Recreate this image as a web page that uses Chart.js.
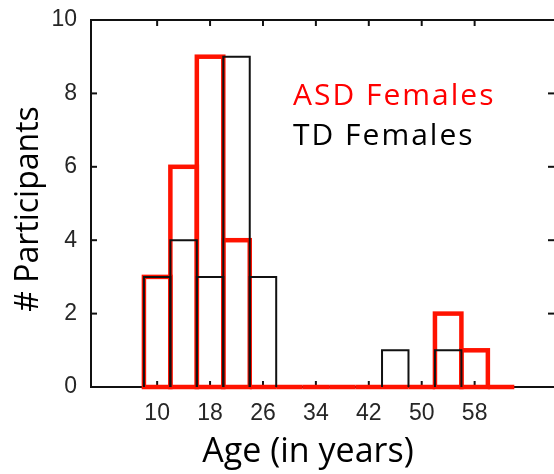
<!DOCTYPE html>
<html>
<head>
<meta charset="utf-8">
<title>Age histogram</title>
<script src="https://cdn.jsdelivr.net/npm/chart.js@4.4.0/dist/chart.umd.min.js"></script>
<style>
html, body { margin: 0; padding: 0; background: #fff; }
#wrap { width: 554px; height: 474px; }
</style>
</head>
<body>
<div id="wrap"><canvas id="hist"></canvas></div>
<script>
// 4-year age bins, given by their centres
var ages = [10, 14, 18, 22, 26, 30, 34, 38, 42, 46, 50, 54, 58, 62];
var asdFemales = [3, 6, 9, 4, 0, 0, 0, 0, 0, 0, 0, 2, 1, 0];
var tdFemales = [3, 4, 3, 9, 3, 0, 0, 0, 0, 1, 0, 1, 0, 0];
var ageTicks = [10, 18, 26, 34, 42, 50, 58];
var countTicks = [0, 2, 4, 6, 8, 10];

var RED = '#ff1200';
var INK = '#111111';
var LABEL = '"Open Sans", Lato, sans-serif';

function points(values)
{
	return ages.map(function (a, i) { return {x: a, y: values[i]}; });
}

function line(ctx, x1, y1, x2, y2)
{
	ctx.beginPath();
	ctx.moveTo(x1, y1);
	ctx.lineTo(x2, y2);
	ctx.stroke();
}

// axes with inward ticks under the bars, the bar outlines on top
var outlines = {
	id: 'outlines',
	beforeDatasetsDraw: function (chart)
	{
		var ctx = chart.ctx, a = chart.chartArea;
		var xs = chart.scales.x, ys = chart.scales.y;
		ctx.save();
		ctx.strokeStyle = INK;
		ctx.lineWidth = 2;
		ctx.beginPath();
		ctx.moveTo(chart.width, a.top);
		ctx.lineTo(a.left, a.top);
		ctx.lineTo(a.left, a.bottom);
		ctx.lineTo(chart.width, a.bottom);
		ctx.stroke();
		ageTicks.forEach(function (v)
		{
			var px = xs.getPixelForValue(v);
			line(ctx, px, a.bottom, px, a.bottom - 6);
			line(ctx, px, a.top, px, a.top + 6);
		});
		countTicks.forEach(function (v)
		{
			var py = ys.getPixelForValue(v);
			line(ctx, a.left, py, a.left + 6, py);
			line(ctx, chart.width, py, chart.width - 6, py);
		});
		ctx.restore();
	},
	afterDatasetsDraw: function (chart)
	{
		var ctx = chart.ctx;
		chart.data.datasets.forEach(function (ds, i)
		{
			var meta = chart.getDatasetMeta(i);
			ctx.save();
			ctx.strokeStyle = ds.borderColor;
			ctx.lineWidth = ds.outlineWidth;
			ctx.lineJoin = 'miter';
			meta.data.forEach(function (bar)
			{
				var p = bar.getProps(['x', 'y', 'base', 'width'], true);
				var l = p.x - p.width / 2, r = p.x + p.width / 2;
				if (ds.closed)
					ctx.strokeRect(l, p.y, r - l, p.base - p.y);
				else if (p.base - p.y > 0.5)
				{
					// open at the bottom, the axis carries the base
					ctx.beginPath();
					ctx.moveTo(l, p.base);
					ctx.lineTo(l, p.y);
					ctx.lineTo(r, p.y);
					ctx.lineTo(r, p.base);
					ctx.stroke();
				}
			});
			ctx.restore();
		});
	},
	afterDraw: function (chart)
	{
		var ctx = chart.ctx;
		ctx.save();
		ctx.textBaseline = 'alphabetic';
		ctx.textAlign = 'left';
		ctx.font = '30px ' + LABEL;
		ctx.letterSpacing = '2px';
		ctx.fillStyle = '#ff0000';
		ctx.fillText(chart.data.datasets[0].label, 293, 105);
		ctx.fillStyle = '#000';
		ctx.fillText(chart.data.datasets[1].label, 293, 145);
		ctx.letterSpacing = '0px';

		ctx.font = '34px ' + LABEL;
		ctx.textAlign = 'center';
		ctx.fillText('Age (in years)', 308, 462);

		ctx.translate(29, 209);
		ctx.rotate(-Math.PI / 2);
		ctx.font = '32px ' + LABEL;
		ctx.textBaseline = 'middle';
		ctx.fillText('# Participants', 0, 0);
		ctx.restore();
	}
};

Chart.defaults.font.family = '"Liberation Sans", Arial, sans-serif';

new Chart(document.getElementById('hist'), {
	type: 'bar',
	data: {
		datasets: [
			{
				label: 'ASD Females',
				data: points(asdFemales),
				backgroundColor: 'rgba(0,0,0,0)',
				borderColor: RED,
				borderWidth: 0,
				outlineWidth: 4.5,
				closed: true
			},
			{
				label: 'TD Females',
				data: points(tdFemales),
				backgroundColor: 'rgba(0,0,0,0)',
				borderColor: INK,
				borderWidth: 0,
				outlineWidth: 2,
				closed: false
			}
		]
	},
	options: {
		responsive: true,
		maintainAspectRatio: false,
		animation: false,
		grouped: false,
		barPercentage: 1,
		categoryPercentage: 1,
		layout: { padding: { top: 20, right: 0, left: 0, bottom: 0 } },
		plugins: { legend: { display: false }, tooltip: { enabled: false } },
		scales: {
			x: {
				type: 'linear',
				min: 0,
				max: 70,
				offset: false,
				grid: { display: false },
				border: { display: false },
				afterBuildTicks: function (s) { s.ticks = ageTicks.map(function (v) { return {value: v}; }); },
				afterFit: function (s) { s.height = 87; },
				ticks: { color: '#262626', font: { size: 23 }, padding: 5, maxRotation: 0 }
			},
			y: {
				min: 0,
				max: 10,
				grid: { display: false },
				border: { display: false },
				afterBuildTicks: function (s) { s.ticks = countTicks.map(function (v) { return {value: v}; }); },
				afterFit: function (s) { s.width = 91; },
				ticks: { color: '#262626', font: { size: 23 }, padding: 6 }
			}
		}
	},
	plugins: [outlines]
});
</script>
</body>
</html>
